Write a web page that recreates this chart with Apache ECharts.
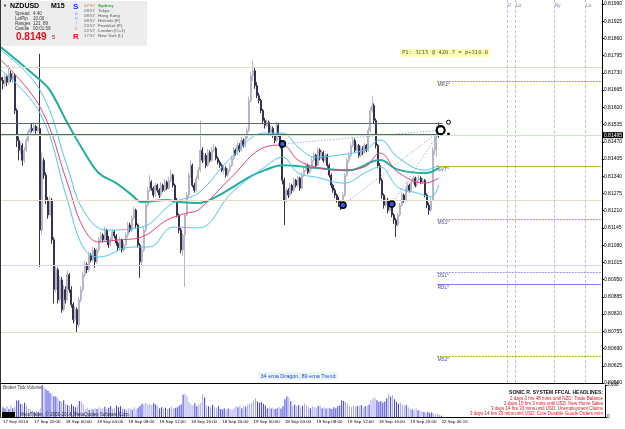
<!DOCTYPE html>
<html>
<head>
<meta charset="utf-8">
<title>NZDUSD M15</title>
<script src="https://cdn.jsdelivr.net/npm/echarts@6/dist/echarts.min.js"></script>
<style>
  html, body { margin:0; padding:0; background:#fff; }
  #chart { width:625px; height:429px; }
</style>
</head>
<body>
<div id="chart"></div>
<script>
// prices are kept in points above 0.80000 (1 point = 0.00001)
var firstOpen = 1712;
var closes = [
1702,1690,1715,1695,1728,1705,1720,1588,1475,1438,
1456,1400,1438,1475,1505,1520,1513,1528,1513,1520,
1137,1400,1344,1250,1194,1250,1100,912,987,874,
949,837,912,874,968,912,856,799,837,780,
874,912,968,1006,987,1043,1024,1062,1017,1062,
1100,1118,1100,1137,1107,1081,1100,1130,1115,1088,
1070,1100,1062,1081,1118,1156,1137,1182,1212,1156,
1081,1017,1062,1137,1231,1287,1318,1295,1269,1306,
1287,1269,1306,1287,1318,1295,1325,1344,1306,1250,
1194,1137,1062,1118,1194,1269,1344,1381,1306,1287,
1333,1363,1438,1400,1419,1381,1430,1400,1438,1445,
1408,1393,1381,1363,1370,1344,1363,1381,1408,1438,
1426,1456,1438,1475,1456,1483,1513,1626,1720,1738,
1682,1644,1626,1588,1550,1532,1543,1505,1520,1494,
1475,1532,1494,1456,1325,1250,1287,1269,1306,1287,
1325,1306,1333,1295,1344,1363,1381,1355,1370,1400,
1419,1381,1438,1408,1430,1400,1419,1381,1344,1306,
1287,1269,1250,1240,1231,1269,1344,1400,1419,1456,
1475,1438,1456,1419,1445,1430,1456,1438,1513,1588,
1607,1550,1456,1381,1325,1269,1231,1250,1212,1231,
1194,1175,1156,1194,1231,1269,1250,1287,1306,1287,
1318,1333,1306,1325,1333,1318,1325,1269,1231,1212,
1250,1438,1490,1513,1498];
var highs = [
1735,1715,1728,1720,1760,1738,1732,1728,1595,1490,
1470,1465,1450,1485,1515,1535,1540,1545,1535,1530,
1802,1430,1410,1355,1262,1265,1258,1110,1000,995,
965,960,930,925,985,975,925,865,850,845,
885,925,980,1020,1015,1055,1050,1075,1070,1070,
1110,1130,1125,1150,1142,1115,1110,1140,1138,1122,
1095,1110,1105,1092,1128,1168,1165,1192,1225,1218,
1162,1088,1075,1148,1242,1300,1344,1325,1302,1315,
1312,1295,1318,1312,1330,1325,1338,1365,1350,1312,
1258,1200,1145,1125,1200,1280,1355,1400,1388,1315,
1342,1375,1550,1450,1430,1428,1442,1438,1450,1460,
1452,1415,1400,1388,1380,1378,1372,1390,1418,1450,
1445,1468,1465,1488,1482,1495,1525,1640,1735,1776,
1750,1695,1655,1632,1595,1560,1555,1550,1530,1528,
1500,1545,1540,1500,1462,1335,1298,1295,1315,1312,
1335,1330,1342,1338,1355,1372,1392,1388,1380,1412,
1430,1425,1450,1445,1440,1436,1428,1425,1388,1350,
1312,1295,1275,1262,1248,1278,1352,1410,1430,1468,
1488,1482,1465,1462,1455,1452,1465,1462,1525,1600,
1644,1615,1558,1462,1390,1332,1275,1262,1258,1240,
1238,1200,1182,1202,1240,1280,1275,1298,1318,1312,
1328,1342,1338,1335,1344,1340,1335,1330,1275,1240,
1260,1450,1500,1530,1543];
var lows = [
1685,1668,1675,1680,1685,1695,1692,1575,1450,1400,
1425,1380,1390,1430,1468,1495,1505,1505,1500,1505,
998,1120,1330,1235,1180,1185,1085,860,900,860,
865,825,830,860,868,900,845,785,790,750,
770,865,905,960,975,980,1015,1018,995,1010,
1055,1092,1090,1095,1098,1070,1075,1095,1105,1078,
1058,1062,1052,1055,1075,1110,1128,1130,1175,1145,
1070,957,1005,1055,1130,1225,1280,1285,1260,1262,
1278,1258,1262,1280,1280,1288,1290,1318,1298,1240,
1185,1125,1050,1040,923,1188,1260,1335,1298,1278,
1280,1325,1355,1390,1392,1370,1375,1392,1395,1430,
1400,1385,1372,1355,1350,1335,1338,1355,1375,1400,
1418,1420,1430,1432,1448,1450,1478,1505,1618,1700,
1670,1635,1615,1578,1540,1520,1525,1495,1498,1485,
1465,1470,1488,1445,1310,1156,1240,1258,1262,1275,
1280,1298,1300,1285,1290,1338,1358,1348,1350,1365,
1395,1372,1378,1400,1402,1392,1394,1372,1335,1295,
1278,1258,1240,1225,1212,1220,1262,1338,1392,1412,
1450,1430,1432,1410,1412,1420,1425,1430,1432,1505,
1580,1540,1445,1370,1312,1255,1218,1222,1200,1205,
1185,1160,1111,1148,1188,1225,1240,1245,1280,1278,
1282,1312,1298,1300,1318,1310,1312,1260,1220,1194,
1205,1245,1420,1412,1485];
var volumes = [
1100,950,1250,900,1300,1000,1150,1850,1900,1500,1400,
1600,1300,900,850,700,600,650,550,1000,3600,3350,
3100,2950,2700,2550,2350,2300,2100,1800,1650,1900,1500,
1350,1250,1450,1200,1100,1300,1800,1750,1400,
900,1050,800,950,850,1000,900,1100,950,
1000,1150,900,1050,1200,950,1000,1300,1100,1200,1000,
900,850,1000,950,800,1100,900,1050,1250,
1500,1450,1600,1400,1500,1350,1550,1400,1200,
1000,1100,950,1050,900,1000,1150,950,1050,1100,1300,1400,
2500,2600,2300,1700,1400,1300,1550,1200,1450,1600,2600,2200,
1300,1200,1100,1350,1150,1000,1200,
900,850,1000,800,950,900,850,1000,
1200,1100,1300,1000,1250,1150,1400,1500,1600,1900,
2100,1750,1600,1700,1500,1300,
1000,1100,950,1050,900,1000,1150,950,1200,2000,2300,2200,1800,
1300,1400,1200,1350,1100,1250,1500,1300,1150,1000,1200,1100,1050,1250,1300,
1000,1100,950,1050,1000,900,1100,1000,1200,1300,
1900,1800,1700,1500,
1200,1100,1300,1150,1250,1200,1350,1100,1250,1300,1400,
1900,2100,2200,1900,1700,1800,1600,1750,2100,
2600,2300,2450,2000,1700,1500,1600,1400,1300,1350,1100,
900,850,800,950,750,700,
600,550,500,600,450,500,400,350,400,250,150];

// bar slot -> time label shown on the axis
var timeLabels = [[0,'17 Sep 2014'],[16,'17 Sep 20:00'],[32,'18 Sep 00:00'],[48,'18 Sep 04:00'],
  [64,'18 Sep 08:00'],[80,'18 Sep 12:00'],[96,'18 Sep 16:00'],[112,'18 Sep 20:00'],
  [128,'19 Sep 00:00'],[144,'19 Sep 04:00'],[160,'19 Sep 08:00'],[176,'19 Sep 12:00'],
  [192,'19 Sep 16:00'],[208,'19 Sep 20:00'],[224,'22 Sep 00:15']];

// indicator lines: [bar, points]
var trend89 = [[0,1827],[20,1703],[25,1665],[34,1541],[42,1439],[50,1352],[59,1314],[67,1269],[72,1243],
  [85,1250],[91,1243],[101,1239],[110,1262],[118,1296],[127,1337],[135,1363],[144,1382],[161,1371],
  [178,1363],[194,1401],[203,1365],[217,1352],[224,1371]];
var dragonMid = [[0,1778],[20,1601],[34,1314],[42,1148],[50,1092],[59,1099],[72,1111],[85,1175],[95,1201],
  [101,1213],[118,1337],[135,1450],[144,1458],[152,1401],[161,1375],[173,1363],[186,1375],[194,1428],
  [203,1356],[217,1314],[224,1333]];
var dragonHigh = [[0,1816],[20,1665],[34,1375],[42,1213],[54,1137],[72,1148],[88,1239],[101,1277],[118,1412],
  [135,1503],[144,1503],[152,1450],[161,1412],[173,1420],[186,1439],[194,1477],[203,1412],[217,1363],[224,1382]];
var dragonLow = [[0,1741],[20,1578],[34,1250],[42,1073],[50,1035],[67,1073],[76,1073],[88,1148],[101,1145],
  [118,1277],[135,1375],[144,1412],[152,1352],[161,1337],[176,1314],[186,1352],[194,1375],[203,1299],
  [213,1277],[220,1262],[224,1307]];

var bidPrice = 0.81495;
var guideLevels = [0.81752, 0.81250, 0.81005, 0.80752];
var tradeLevels = [0.81541, 0.81499];
var pivotNames = ['MR1^', 'SVT^', 'MS1^', 'DS1^', 'RDL^', 'MS2^'];
var pivotLevels = [0.81699, 0.81379, 0.81179, 0.80979, 0.80933, 0.80662];
var sessionSlots = [259, 263, 283, 299];
var sessionNames = ['F', 'Lo', 'Ny', 'Lo'];
var swings = [[144, 0.81462], [175, 0.81231], [200, 0.81235]];
var target = [225, 0.81514];

var slotCount = 308;
var font = '"Liberation Sans", Arial, sans-serif';

function P(pts) { return (80000 + pts) / 100000; }

var slots = [];
for (var s = 0; s < slotCount; s++) slots.push(String(s));
var labelAt = {};
timeLabels.forEach(function (t) { labelAt[t[0]] = t[1]; });

var opens = closes.map(function (c, i) { return i ? closes[i - 1] : firstOpen; });
var candles = closes.map(function (c, i) { return [P(opens[i]), P(c), P(lows[i]), P(highs[i])]; });
function toLine(arr) { return arr.map(function (p) { return [p[0], P(p[1])]; }); }

var guideColors = ['#e6dfc6', '#e6dfc6', '#d4d4ee', '#e6dfc6'];
var pivotStyles = [
  {color:'#a8a830', type:[2,1]}, {color:'#b8b040', type:'solid'}, {color:'#a8a830', type:[2,1]},
  {color:'#9a9af0', type:[2,1]}, {color:'#8080f0', type:'solid'}, {color:'#a8a830', type:[2,1]}];

var marks = [];
guideLevels.forEach(function (v, i) {
  marks.push({yAxis: v, lineStyle: {color: guideColors[i], width: 1, type: 'solid'}});
});
sessionSlots.forEach(function (x) {
  marks.push({xAxis: x, lineStyle: {color: '#c4c4c4', width: 1, type: [3, 2]}});
});
marks.push({yAxis: bidPrice, lineStyle: {color: '#c4ecc4', width: 1, type: 'solid'},
  label: {show: true, position: 'end', distance: 1, formatter: bidPrice.toFixed(5), color: '#fff',
    backgroundColor: '#000', fontSize: 5, fontFamily: font, padding: [1, 1, 0, 1]}});
tradeLevels.forEach(function (v) {
  marks.push([{coord: [0, v], lineStyle: {color: '#5a6868', width: 1, type: 'solid'}}, {coord: [226, v]}]);
});
pivotLevels.forEach(function (v, i) {
  marks.push([{coord: [223, v], lineStyle: {color: pivotStyles[i].color, width: 1, type: pivotStyles[i].type},
    label: {show: true, position: 'insideStartBottom', distance: 1, formatter: pivotNames[i],
      color: '#4a4a8a', fontSize: 4.6, fontFamily: font}}, {coord: [slotCount - 1, v]}]);
});

var series = [{
  type: 'candlestick', xAxisIndex: 0, yAxisIndex: 0, data: candles, barWidth: 1.5,
  itemStyle: {color: '#b6b6c6', color0: '#33334f', borderColor: '#b6b6c6', borderColor0: '#33334f', borderWidth: 1},
  markLine: {silent: true, symbol: ['none', 'none'], precision: 5, animation: false, label: {show: false}, data: marks}
}];
var maDefs = [[trend89, '#22ad9c', 2], [dragonHigh, '#4cc8f4', 1], [dragonLow, '#4cc8f4', 1], [dragonMid, '#f0407a', 1]];
maDefs.forEach(function (m) {
  series.push({type: 'line', xAxisIndex: 0, yAxisIndex: 0, data: toLine(m[0]), smooth: 0.4,
    showSymbol: false, silent: true, lineStyle: {color: m[1], width: m[2]}, z: 3});
});
swings.forEach(function (p) {
  series.push({type: 'line', xAxisIndex: 0, yAxisIndex: 0, data: [p, target], showSymbol: false, silent: true,
    lineStyle: {color: '#7896e6', width: 1, type: [1, 2]}, z: 4});
});
series.push({type: 'scatter', xAxisIndex: 0, yAxisIndex: 0, data: swings, symbolSize: 6, silent: true, z: 6,
  itemStyle: {color: '#2a5cff', borderColor: '#000', borderWidth: 1.6, opacity: 1}});
series.push({type: 'scatter', xAxisIndex: 0, yAxisIndex: 0, data: [target], symbolSize: 8, silent: true, z: 6,
  itemStyle: {color: '#fff', borderColor: '#000', borderWidth: 2.2, opacity: 1}});
series.push({type: 'scatter', xAxisIndex: 0, yAxisIndex: 0, data: [[229, tradeLevels[0] + 0.00003]], symbolSize: 4,
  silent: true, itemStyle: {color: '#fff', borderColor: '#000', borderWidth: 1, opacity: 1}});
series.push({type: 'scatter', xAxisIndex: 0, yAxisIndex: 0, data: [[229, tradeLevels[1]]], symbolSize: 3,
  silent: true, itemStyle: {color: '#000', opacity: 1}});
series.push({type: 'scatter', xAxisIndex: 0, yAxisIndex: 0, symbolSize: 0, silent: true,
  data: sessionSlots.map(function (x, i) { return {value: [x, 0.81985], name: sessionNames[i]}; }),
  label: {show: true, position: 'right', distance: 1, formatter: '{b}', color: '#5050c8', fontSize: 4.6, fontFamily: font}});
series.push({type: 'bar', xAxisIndex: 1, yAxisIndex: 1, data: volumes, barWidth: 1, silent: true,
  itemStyle: {color: function (p) { return closes[p.dataIndex] >= opens[p.dataIndex] ? '#a6a6f2' : '#3b3be0'; }}});

function txt(x, y, text, size, color, extra) {
  var st = {text: text, x: 0, y: 0, fill: color, font: (extra && extra.bold ? 'bold ' : '') + size + 'px ' + font,
    verticalAlign: 'middle', align: (extra && extra.align) || 'left'};
  if (extra && extra.bg) { st.backgroundColor = extra.bg; st.padding = [1, 2]; }
  if (extra && extra.family) st.font = size + 'px ' + extra.family;
  return {type: 'text', x: x, y: y, z: 100, silent: true, style: st};
}

var graphics = [
  {type: 'rect', shape: {x: 1, y: 1, width: 146, height: 45}, style: {fill: '#ededed'}, z: 90, silent: true},
  {type: 'line', shape: {x1: 0.5, y1: 0, x2: 0.5, y2: 418}, style: {stroke: '#333', lineWidth: 1}, z: 90, silent: true},
  txt(3, 6, '\u25BC', 4, '#000'),
  txt(10, 6.5, 'NZDUSD', 7, '#000', {bold: true}),
  txt(51, 6.5, 'M15', 7, '#000', {bold: true}),
  txt(15, 13.5, 'Spread', 4.5, '#333'), txt(33, 13.5, '4.40', 4.5, '#333'),
  txt(15, 18.5, 'LotPip', 4.5, '#333'), txt(33, 18.5, '10.00', 4.5, '#333'),
  txt(15, 23.5, 'Ranges', 4.5, '#333'), txt(33, 23.5, '121, 89', 4.5, '#333'),
  txt(15, 28.5, 'Candle', 4.5, '#333'), txt(33, 28.5, '00:01:59', 4.5, '#333'),
  txt(16, 37, '0.8149', 10, '#e8101c', {bold: true}),
  txt(52, 37.5, '5', 6, '#c81018'),
  txt(73, 6.5, 'S', 8, '#1c2cff', {bold: true}),
  txt(75, 14, 'o', 4.5, '#6c8cf0'), txt(75, 19, 'n', 4.5, '#6c8cf0'),
  txt(76, 24, 'i', 4.5, '#e86a9a'), txt(75, 29, 'c', 4.5, '#e86a9a'),
  txt(73, 37, 'R', 8, '#e8101c', {bold: true})
];
var clockTimes = ['07:57', '08:57', '08:57', '08:57', '23:57', '22:57', '17:57'];
var clockNames = ['Sydney', 'Tokyo', 'Hong Kong', 'Helsinki (F)', 'Frankfurt (F)', 'London (O+1)', 'New York (L)'];
clockTimes.forEach(function (t, i) {
  graphics.push(txt(84, 6 + i * 5, t, 4.4, i === 0 ? '#c0782a' : '#666'));
  graphics.push(txt(98, 6 + i * 5, clockNames[i], 4.4, i === 0 ? '#22a030' : '#555', i === 0 ? {bold: true} : null));
});
graphics.push(txt(400, 53, 'P1: 3C15 @ 420.7 = p+310.0', 5.5, '#4c5a2a', {bg: '#ffffb4', family: '"DejaVu Sans Mono", monospace'}));
graphics.push(txt(298, 376, '34 ema Dragon, 89 ema Trend', 5.5, '#1a4fd8', {align: 'center', bg: '#eef2fb'}));
graphics.push(txt(3, 388, 'Broker Tick Volume', 4.5, '#333'));
graphics.push({type: 'rect', shape: {x: 2, y: 412, width: 13, height: 5}, style: {fill: '#000'}, z: 100, silent: true});
graphics.push(txt(20, 414.5, 'MetaTrader, \u00A9 2001-2014, MetaQuotes Software Corp.', 4.5, '#222'));
graphics.push(txt(603, 393, 'SONIC R. SYSTEM FFCAL HEADLINES:', 5, '#111', {bold: true, align: 'right'}));
var headlines = ['2 days 0 hrs 48 mins until NZD: Trade Balance', '2 days 15 hrs 3 mins until USD: New Home Sales',
  '3 days 14 hrs 33 mins until USD: Unemployment Claims', '3 days 14 hrs 33 mins until USD: Core Durable Goods Orders m/m'];
headlines.forEach(function (h, i) { graphics.push(txt(603, 398.5 + i * 5.2, h, 4.5, '#e8141e', {align: 'right'})); });

var chart = echarts.init(document.getElementById('chart'), null, {renderer: 'canvas'});
chart.setOption({
  animation: false,
  backgroundColor: '#fff',
  grid: [
    {left: 0, top: 0, width: 605, height: 383},
    {left: 0, top: 385, width: 605, height: 32}
  ],
  xAxis: [
    {type: 'category', gridIndex: 0, data: slots, boundaryGap: true,
      axisLine: {lineStyle: {color: '#000', width: 1}}, axisTick: {show: false}, axisLabel: {show: false}},
    {type: 'category', gridIndex: 1, data: slots, boundaryGap: true,
      axisLine: {lineStyle: {color: '#000', width: 1}}, axisTick: {show: false},
      axisLabel: {show: true, fontSize: 4.4, fontFamily: font, color: '#000', align: 'left', margin: 3,
        interval: function (idx) { return labelAt[idx] !== undefined; },
        formatter: function (v, idx) { return labelAt[idx] || ''; }}}
  ],
  yAxis: [
    {type: 'value', gridIndex: 0, position: 'right', min: 0.80560, max: 0.82005, interval: 0.00065,
      axisLine: {show: true, lineStyle: {color: '#000', width: 1}},
      axisTick: {show: true, length: 2, lineStyle: {color: '#000'}}, splitLine: {show: false},
      axisLabel: {fontSize: 5, fontFamily: font, color: '#000', margin: 2, showMaxLabel: false,
        formatter: function (v) { return v.toFixed(5); }}},
    {type: 'value', gridIndex: 1, position: 'right', min: 0, max: 3608, interval: 3608,
      axisLine: {show: true, lineStyle: {color: '#000', width: 1}},
      axisTick: {show: true, length: 2, lineStyle: {color: '#000'}}, splitLine: {show: false},
      axisLabel: {fontSize: 4.6, fontFamily: font, color: '#000', margin: 2}}
  ],
  series: series,
  graphic: graphics
});
</script>
</body>
</html>
